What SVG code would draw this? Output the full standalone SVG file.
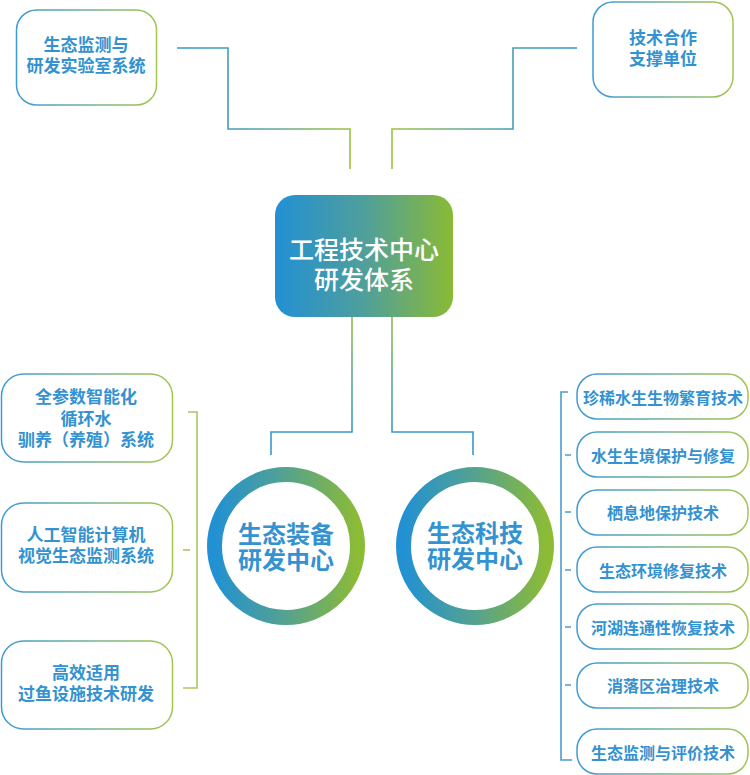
<svg xmlns="http://www.w3.org/2000/svg" width="750" height="775" viewBox="0 0 750 775">
<defs>
<linearGradient id="gBox" x1="0" y1="0" x2="1" y2="0">
<stop offset="0" stop-color="#2290d4"/>
<stop offset="0.5" stop-color="#4f9f9c"/>
<stop offset="1" stop-color="#8aba35"/>
</linearGradient>
<linearGradient id="gRing" x1="0" y1="0" x2="1" y2="0">
<stop offset="0" stop-color="#2291d3"/>
<stop offset="0.5" stop-color="#55a28e"/>
<stop offset="1" stop-color="#8cbb36"/>
</linearGradient>
<linearGradient id="gBorder" x1="0" y1="0" x2="1" y2="0">
<stop offset="0" stop-color="#3d9bd6"/>
<stop offset="1" stop-color="#a3c650"/>
</linearGradient>
<linearGradient id="gTL" gradientUnits="userSpaceOnUse" x1="177" y1="0" x2="350" y2="0">
<stop offset="0" stop-color="#3597cf"/>
<stop offset="0.4" stop-color="#4a9eb5"/>
<stop offset="1" stop-color="#9cc23e"/>
</linearGradient>
<linearGradient id="gTR" gradientUnits="userSpaceOnUse" x1="577" y1="0" x2="392" y2="0">
<stop offset="0" stop-color="#3597cf"/>
<stop offset="0.4" stop-color="#4a9eb5"/>
<stop offset="1" stop-color="#9cc23e"/>
</linearGradient>
<linearGradient id="gDown" gradientUnits="userSpaceOnUse" x1="0" y1="317" x2="0" y2="432">
<stop offset="0" stop-color="#93be45"/>
<stop offset="1" stop-color="#3a98cc"/>
</linearGradient>
</defs>
<style>
.t{font-family:"Noto Sans CJK SC","Noto Sans",sans-serif;font-weight:700;fill:#3492d0;text-anchor:middle;dominant-baseline:central}
.s{font-size:17px}
.r{font-size:16px}
.c{font-size:24px}
.w{font-family:"Noto Sans CJK SC","Noto Sans",sans-serif;font-weight:500;font-size:25px;fill:#ffffff;text-anchor:middle;dominant-baseline:central}
.bx{fill:#ffffff;stroke:url(#gBorder);stroke-width:1.5}
.ln{fill:none;stroke-width:1.6}
.ring{fill:none;stroke:url(#gRing);stroke-width:15}
</style>
<rect width="750" height="775" fill="#ffffff"/>

<g id="connectors">
<path class="ln" stroke="url(#gTL)" d="M177 48H228V129H350V169"/>
<path class="ln" stroke="url(#gTR)" d="M577 48H513V129H392V169"/>
<path class="ln" stroke="url(#gDown)" d="M352 317V432H271V455"/>
<path class="ln" stroke="url(#gDown)" d="M392 317V432H473V455"/>
<path class="ln" stroke="#a8c85c" d="M188 412H197V688H183"/>
<path class="ln" stroke="#a8c85c" d="M183 550H190"/>
<path class="ln" stroke="#4a9fd2" d="M568 392H561V760H572"/>
<path class="ln" stroke="#4a9fd2" d="M565 455H571M565 512H571M565 570H571M565 627H571M565 685H571"/>
</g>

<g id="n-lab">
<rect class="bx" x="16.5" y="10" width="140" height="95" rx="20"/>
<text class="t s" x="86" y="43">生态监测与<tspan x="86" dy="21">研发实验室系统</tspan></text>
</g>
<g id="n-coop">
<rect class="bx" x="593" y="2" width="140" height="95" rx="20"/>
<text class="t s" x="663" y="36">技术合作<tspan x="663" dy="21">支撑单位</tspan></text>
</g>
<g id="n-center">
<rect x="275" y="195" width="178" height="122" rx="20" fill="url(#gBox)"/>
<text class="w" x="364" y="248">工程技术中心<tspan x="364" dy="30">研发体系</tspan></text>
</g>

<g id="n-equip">
<circle class="ring" cx="286" cy="546" r="71.5"/>
<text class="t c" x="286" y="532">生态装备<tspan x="286" dy="26">研发中心</tspan></text>
</g>
<g id="n-sci">
<circle class="ring" cx="475" cy="546" r="71.5"/>
<text class="t c" x="475" y="531">生态科技<tspan x="475" dy="26">研发中心</tspan></text>
</g>

<g id="n-l1">
<rect class="bx" x="1.5" y="374" width="171" height="88" rx="22"/>
<text class="t s" x="86" y="395">全参数智能化<tspan x="86" dy="21.5">循环水</tspan><tspan x="86" dy="21.5">驯养（养殖）系统</tspan></text>
</g>
<g id="n-l2">
<rect class="bx" x="1.5" y="503" width="171" height="89" rx="22"/>
<text class="t s" x="86" y="533">人工智能计算机<tspan x="86" dy="21">视觉生态监测系统</tspan></text>
</g>
<g id="n-l3">
<rect class="bx" x="1.5" y="641" width="171" height="88" rx="22"/>
<text class="t s" x="86" y="671">高效适用<tspan x="86" dy="21">过鱼设施技术研发</tspan></text>
</g>

<g id="n-r1">
<rect class="bx" x="577" y="374" width="171" height="45" rx="20"/>
<text class="t r" x="663" y="397">珍稀水生生物繁育技术</text>
</g>
<g id="n-r2">
<rect class="bx" x="577" y="432" width="171" height="45" rx="20"/>
<text class="t r" x="663" y="455">水生生境保护与修复</text>
</g>
<g id="n-r3">
<rect class="bx" x="577" y="490" width="171" height="45" rx="20"/>
<text class="t r" x="663" y="512">栖息地保护技术</text>
</g>
<g id="n-r4">
<rect class="bx" x="577" y="547" width="171" height="45" rx="20"/>
<text class="t r" x="663" y="570">生态环境修复技术</text>
</g>
<g id="n-r5">
<rect class="bx" x="577" y="604" width="171" height="45" rx="20"/>
<text class="t r" x="663" y="627">河湖连通性恢复技术</text>
</g>
<g id="n-r6">
<rect class="bx" x="577" y="663" width="171" height="45" rx="20"/>
<text class="t r" x="663" y="685">消落区治理技术</text>
</g>
<g id="n-r7">
<rect class="bx" x="577" y="729" width="171" height="45" rx="20"/>
<text class="t r" x="663" y="752">生态监测与评价技术</text>
</g>
</svg>
